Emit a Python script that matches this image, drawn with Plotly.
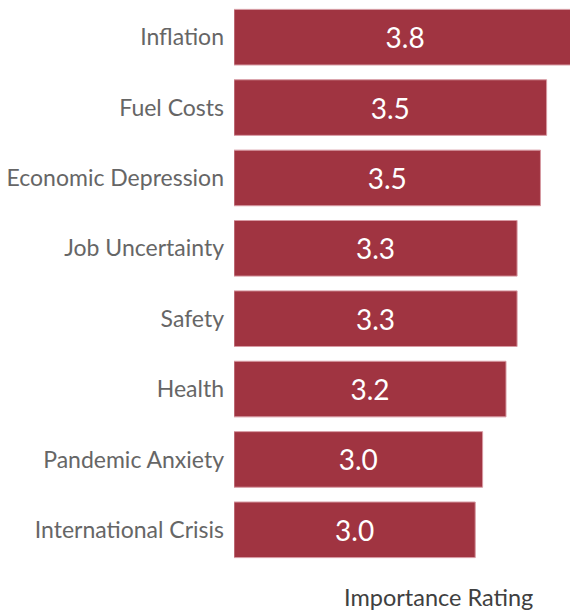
import plotly.graph_objects as go

# Concern categories, listed top to bottom
categories = [
    "Inflation",
    "Fuel Costs",
    "Economic Depression",
    "Job Uncertainty",
    "Safety",
    "Health",
    "Pandemic Anxiety",
    "International Crisis",
]

# Mean importance rating per concern (scale starts at 1)
ratings = [3.78, 3.54, 3.49, 3.30, 3.30, 3.21, 3.02, 2.96]

scale_min = 1.0
bar_color = "#A03441"
font_family = "Lato, 'Open Sans', sans-serif"

fig = go.Figure(
    go.Bar(
        y=categories,
        x=[r - scale_min for r in ratings],
        base=scale_min,
        orientation="h",
        customdata=ratings,
        texttemplate="%{customdata:.1f}",
        textposition="inside",
        insidetextanchor="middle",
        textangle=0,
        insidetextfont=dict(family=font_family, size=28, color="white"),
        marker=dict(color=bar_color, line=dict(color="#D79AA3", width=1)),
        width=0.79,
        hoverinfo="skip",
    )
)

fig.update_layout(
    width=570,
    height=611,
    margin=dict(l=234, r=0, t=2, b=46),
    paper_bgcolor="white",
    plot_bgcolor="white",
    showlegend=False,
    font=dict(family=font_family),
    xaxis=dict(
        range=[scale_min, 3.73],
        visible=False,
        fixedrange=True,
    ),
    yaxis=dict(
        autorange="reversed",
        showgrid=False,
        showline=False,
        zeroline=False,
        ticks="",
        ticklabelstandoff=9,
        tickfont=dict(family=font_family, size=23, color="#666666"),
        fixedrange=True,
    ),
    annotations=[
        dict(
            text="Importance Rating",
            xref="paper",
            yref="paper",
            x=(438 - 234) / (570 - 234),
            y=0,
            yshift=-32,
            xanchor="center",
            yanchor="middle",
            showarrow=False,
            font=dict(family=font_family, size=23.5, color="#404040"),
        )
    ],
)

fig.write_html("out.html")
